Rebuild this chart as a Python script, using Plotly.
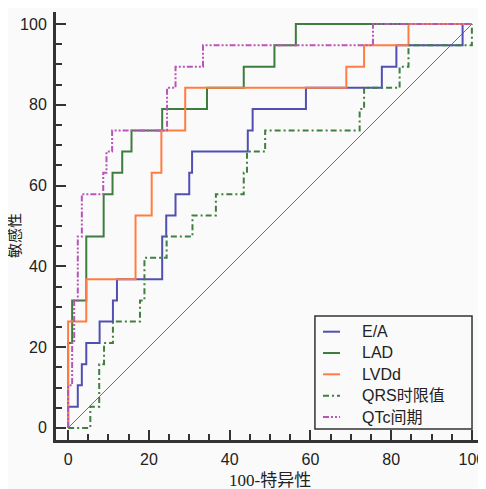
import plotly.graph_objects as go

# ROC points (100-specificity, sensitivity)
ea_fpr = [0, 0, 2.4, 3.4, 4.5, 7.8, 11.1, 12.1, 23.3, 24.3, 26.6, 30.0, 30.7, 44.5, 45.7, 58.9, 77.7, 81.3, 97.7, 100]
ea_tpr = [0, 5.26, 10.53, 15.79, 21.05, 26.32, 31.58, 36.84, 47.37, 52.63, 57.89, 63.16, 68.42, 73.68, 78.95, 84.21, 89.47, 94.74, 100, 100]

lad_fpr = [0, 0, 1.0, 4.5, 8.8, 11.0, 13.4, 15.7, 23.3, 34.4, 43.5, 51.1, 56.4, 100]
lad_tpr = [0, 21.05, 31.58, 47.37, 57.89, 63.16, 68.42, 73.68, 78.95, 84.21, 89.47, 94.74, 100, 100]

lvdd_fpr = [0, 0, 4.5, 16.7, 20.7, 23.1, 29.0, 68.9, 73.3, 84.3, 100]
lvdd_tpr = [0, 26.32, 36.84, 52.63, 63.16, 73.68, 84.21, 89.47, 94.74, 100, 100]

qrs_fpr = [0, 5.5, 7.7, 8.9, 11.1, 17.8, 18.9, 24.4, 30.8, 36.6, 43.5, 44.3, 48.8, 72.2, 73.3, 82.1, 84.3, 100, 100]
qrs_tpr = [0, 5.26, 15.79, 21.05, 26.32, 31.58, 42.11, 47.37, 52.63, 57.89, 63.16, 68.42, 73.68, 78.95, 84.21, 89.47, 94.74, 94.74, 100]

qtc_fpr = [0, 0, 1.0, 1.5, 2.4, 3.4, 8.7, 9.5, 10.9, 24.5, 26.6, 33.4, 75.5, 100]
qtc_tpr = [0, 10.53, 21.05, 31.58, 47.37, 57.89, 63.16, 68.42, 73.68, 84.21, 89.47, 94.74, 100, 100]

diag = [0, 100]
tick_vals = [0, 20, 40, 60, 80, 100]

series = [
    ("E/A", ea_fpr, ea_tpr, "#5050b4", "solid"),
    ("LAD", lad_fpr, lad_tpr, "#3d7d3d", "solid"),
    ("LVDd", lvdd_fpr, lvdd_tpr, "#ff7d42", "solid"),
    ("QRS时限值", qrs_fpr, qrs_tpr, "#3f7f3f", "6px,3px,2px,3px"),
    ("QTc间期", qtc_fpr, qtc_tpr, "#b855b8", "6px,2px,2px,2px,2px,2px"),
]

fig = go.Figure()
fig.add_trace(go.Scatter(x=diag, y=diag, mode="lines", showlegend=False,
                         line=dict(color="#c0503f", width=1), hoverinfo="skip"))
for i, (name, fx, ty, col, dash) in enumerate(series):
    fig.add_trace(go.Scatter(x=fx, y=ty, mode="lines", name=name, showlegend=False,
                             line=dict(color=col, width=2, dash=dash, shape="hv")))

axis_common = dict(
    range=[-3, 103], tickvals=tick_vals, ticks="inside", ticklen=10, tickwidth=2,
    tickcolor="#333", showline=True, linewidth=3, linecolor="#333", showgrid=False,
    zeroline=False, ticklabelstandoff=3, automargin=False,
    tickfont=dict(family="Liberation Sans, Arial", size=16, color="#222"),
    minor=dict(dtick=5, tick0=0, ticks="inside", ticklen=6, tickwidth=2, tickcolor="#333"),
)

# Legend drawn as a framed box (paper coordinates of the plot area)
leg_x0, leg_x1, leg_y0, leg_y1 = 0.605, 0.972, 0.0257, 0.2897
leg_rows = [0.2530, 0.2033, 0.1535, 0.1035, 0.0537]
shapes = [dict(type="rect", xref="paper", yref="paper", x0=leg_x0, x1=leg_x1, y0=leg_y0, y1=leg_y1,
               fillcolor="#fafafa", line=dict(color="#333", width=1.5), layer="above")]
annotations = []
for (name, fx, ty, col, dash), yy in zip(series, leg_rows):
    shapes.append(dict(type="line", xref="paper", yref="paper", x0=0.6238, x1=0.6636, y0=yy, y1=yy,
                       line=dict(color=col, width=2, dash=dash), layer="above"))
    annotations.append(dict(text=name, xref="paper", yref="paper", x=0.7100, y=yy,
                            xanchor="left", yanchor="middle", showarrow=False,
                            font=dict(family="Liberation Sans, Noto Sans CJK SC", size=16, color="#222")))

annotations += [
    dict(text="100-特异性", xref="paper", yref="paper", x=0.5, y=-0.0935,
         xanchor="center", yanchor="middle", showarrow=False,
         font=dict(family="Liberation Serif, Noto Sans CJK SC", size=17, color="#222")),
    dict(text="敏感性", xref="paper", yref="paper", x=-0.0958, y=0.479,
         xanchor="center", yanchor="middle", showarrow=False, textangle=-90,
         font=dict(family="Liberation Serif, Noto Sans CJK SC", size=15, color="#222")),
]

fig.update_layout(
    width=478, height=481,
    margin=dict(l=48, r=2, t=4, b=49),
    paper_bgcolor="#fafafa", plot_bgcolor="#fafafa",
    xaxis=dict(**axis_common),
    yaxis=dict(**axis_common),
    showlegend=False,
    shapes=shapes,
    annotations=annotations,
)

fig.write_html("out.html")
